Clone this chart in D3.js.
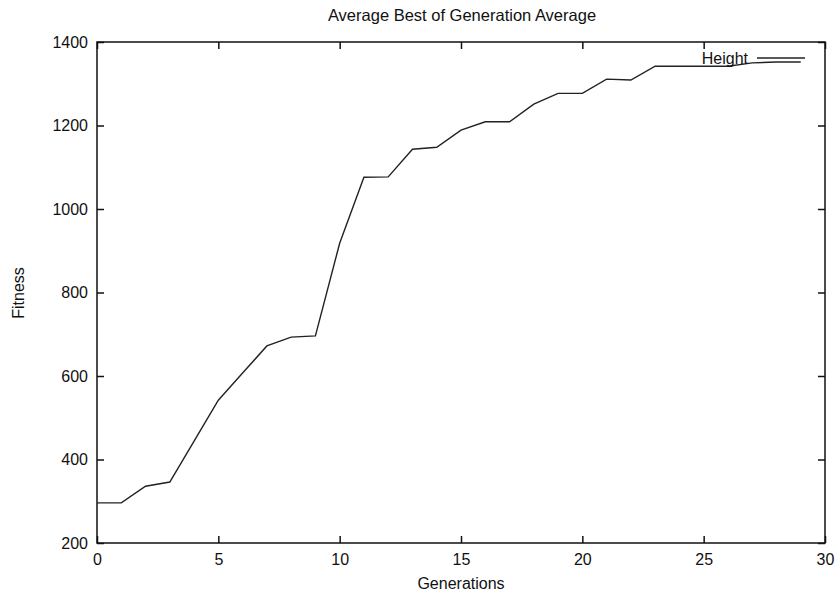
<!DOCTYPE html>
<html>
<head>
<meta charset="utf-8">
<script src="https://cdn.jsdelivr.net/npm/d3@7"></script>
<style>
  body { margin: 0; background: #fff; }
  svg text { font-family: "Liberation Sans", Arial, sans-serif; fill: #111; }
  .axis path, .axis line { stroke: #111; }
</style>
</head>
<body>
<div id="chart"></div>
<script>
// generation index and averaged best fitness
var generations = [0, 1, 2, 3, 4, 5, 6, 7, 8, 9, 10, 11, 12, 13, 14, 15, 16, 17, 18, 19, 20, 21, 22, 23, 24, 25, 26, 27, 28, 29];
var fitness = [296, 296, 336, 346, 444, 542, 607, 672, 693, 696, 918, 1076, 1077, 1143, 1148, 1189, 1209, 1209, 1251, 1277, 1277, 1311, 1309, 1342, 1342, 1342, 1342, 1350, 1352, 1352];
var xTicks = [0, 5, 10, 15, 20, 25, 30];
var yTicks = [200, 400, 600, 800, 1000, 1200, 1400];
var seriesName = "Height";

var dataset = generations.map(function(g, i) { return { gen: g, value: fitness[i] }; });

var margin = { top: 42, right: 15, bottom: 53, left: 97 },
    width = 840 - margin.left - margin.right,
    height = 596 - margin.top - margin.bottom;

var svg = d3.select("#chart").append("svg")
    .attr("width", 840)
    .attr("height", 596);

var g = svg.append("g")
    .attr("transform", "translate(" + margin.left + "," + margin.top + ")");

var xScale = d3.scaleLinear().domain([0, 30]).range([0, width]);
var yScale = d3.scaleLinear().domain([200, 1400]).range([height, 0]);

// frame
g.append("rect")
    .attr("width", width)
    .attr("height", height)
    .style("fill", "none")
    .style("stroke", "#111")
    .style("stroke-width", 1.5);

// axes with inward ticks, mirrored on opposite sides
g.append("g")
    .attr("class", "x axis")
    .attr("transform", "translate(0," + height + ")")
    .call(d3.axisBottom(xScale).tickValues(xTicks).tickSize(-7).tickPadding(11).tickFormat(d3.format("d")))
    .call(function(a) { a.select(".domain").remove(); });

g.append("g")
    .attr("class", "x axis")
    .call(d3.axisTop(xScale).tickValues(xTicks).tickSize(-7).tickFormat(""))
    .call(function(a) { a.select(".domain").remove(); });

g.append("g")
    .attr("class", "y axis")
    .call(d3.axisLeft(yScale).tickValues(yTicks).tickSize(-7).tickPadding(9).tickFormat(d3.format("d")))
    .call(function(a) { a.select(".domain").remove(); });

g.append("g")
    .attr("class", "y axis")
    .attr("transform", "translate(" + width + ",0)")
    .call(d3.axisRight(yScale).tickValues(yTicks).tickSize(-7).tickFormat(""))
    .call(function(a) { a.select(".domain").remove(); });

g.selectAll(".axis line").style("stroke-width", 1.5);
g.selectAll(".axis text").style("font-size", "16px");

// data line
var line = d3.line()
    .x(function(d) { return xScale(d.gen); })
    .y(function(d) { return yScale(d.value); });

g.append("path")
    .datum(dataset)
    .attr("d", line)
    .style("fill", "none")
    .style("stroke", "#222")
    .style("stroke-width", 1.4);

// legend
g.append("text")
    .attr("x", 651)
    .attr("y", 22)
    .attr("text-anchor", "end")
    .style("font-size", "16px")
    .text(seriesName);

g.append("line")
    .attr("x1", 660)
    .attr("x2", 708)
    .attr("y1", 16)
    .attr("y2", 16)
    .style("stroke", "#222")
    .style("stroke-width", 1.4);

// title and axis labels
svg.append("text")
    .attr("x", 462)
    .attr("y", 21)
    .attr("text-anchor", "middle")
    .style("font-size", "16.5px")
    .text("Average Best of Generation Average");

svg.append("text")
    .attr("x", 461)
    .attr("y", 589)
    .attr("text-anchor", "middle")
    .style("font-size", "16px")
    .text("Generations");

svg.append("text")
    .attr("transform", "translate(24,293) rotate(-90)")
    .attr("text-anchor", "middle")
    .style("font-size", "16px")
    .text("Fitness");
</script>
</body>
</html>
